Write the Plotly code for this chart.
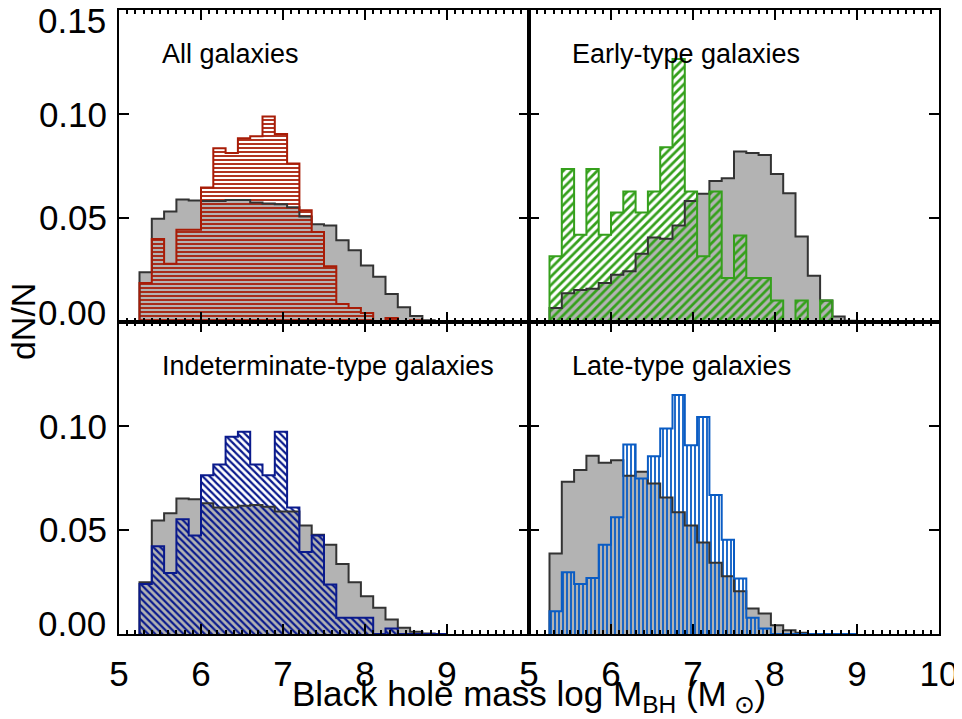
import plotly.graph_objects as go

# ---------------- data ----------------
bin_left = [5.25, 5.40, 5.55, 5.70, 5.85, 6.00, 6.15, 6.30, 6.45, 6.60, 6.75, 6.90,
            7.05, 7.20, 7.35, 7.50, 7.65, 7.80, 7.95, 8.10, 8.25, 8.40, 8.55, 8.70, 8.85]
bin_width = 0.15

gray_all = [0.0240, 0.0497, 0.0532, 0.0590, 0.0585, 0.0583, 0.0583, 0.0587, 0.0587, 0.0575,
            0.0571, 0.0567, 0.0553, 0.0508, 0.0471, 0.0465, 0.0394, 0.0346, 0.0272, 0.0218,
            0.0135, 0.0071, 0.0029, 0.0008, 0.0]
red_all = [0.0188, 0.0399, 0.0280, 0.0444, 0.0444, 0.0647, 0.0837, 0.0813, 0.0885, 0.0894,
           0.0989, 0.0905, 0.0763, 0.0538, 0.0433, 0.0268, 0.0087, 0.0067, 0.0043, 0.0,
           0.0019, 0.0, 0.0008, 0.0, 0.0]

gray_early = [0.0067, 0.0138, 0.0154, 0.0160, 0.0188, 0.0228, 0.0244, 0.0329, 0.0407, 0.0401,
              0.0465, 0.0583, 0.0617, 0.0679, 0.0692, 0.0821, 0.0813, 0.0804, 0.0712, 0.0620,
              0.0412, 0.0223, 0.0104, 0.0027, 0.0006]
green_early = [0.0316, 0.0736, 0.0420, 0.0736, 0.0420, 0.0527, 0.0628, 0.0527, 0.0628, 0.0841,
               0.1266, 0.0628, 0.0316, 0.0628, 0.0212, 0.0417, 0.0212, 0.0212, 0.0104, 0.0,
               0.0104, 0.0, 0.0104, 0.0, 0.0]

gray_indet = [0.0249, 0.0546, 0.0581, 0.0652, 0.0649, 0.0630, 0.0609, 0.0609, 0.0618, 0.0621,
              0.0613, 0.0590, 0.0590, 0.0522, 0.0478, 0.0430, 0.0337, 0.0249, 0.0182, 0.0126,
              0.0070, 0.0030, 0.0011, 0.0003, 0.0]
blue_indet = [0.0241, 0.0422, 0.0294, 0.0553, 0.0474, 0.0764, 0.0816, 0.0949, 0.0974, 0.0816,
              0.0764, 0.0974, 0.0609, 0.0395, 0.0474, 0.0238, 0.0078, 0.0078, 0.0078, 0.0,
              0.0026, 0.0, 0.0, 0.0, 0.0]

gray_late = [0.0388, 0.0733, 0.0789, 0.0858, 0.0824, 0.0837, 0.0762, 0.0781, 0.0725, 0.0657,
             0.0586, 0.0522, 0.0441, 0.0343, 0.0278, 0.0206, 0.0123, 0.0099, 0.0042, 0.0018,
             0.0006, 0.0, 0.0, 0.0, 0.0]
blue_late = [0.0110, 0.0297, 0.0241, 0.0270, 0.0430, 0.0562, 0.0912, 0.0749, 0.0856, 0.0989,
             0.1150, 0.0909, 0.1045, 0.0669, 0.0454, 0.0267, 0.0078, 0.0027, 0.0, 0.0,
             0.0, 0.0, 0.0, 0.0, 0.0]

panel_titles = ["All galaxies", "Early-type galaxies",
                "Indeterminate-type galaxies", "Late-type galaxies"]
y_ticks = [0.0, 0.05, 0.10, 0.15]
y_tick_text = ["0.00", "0.05", "0.10", "0.15"]
x_ticks_left = [5, 6, 7, 8, 9]
x_ticks_right = [5, 6, 7, 8, 9, 10]

# ---------------- style ----------------
FONT = "Liberation Sans, Arial, Helvetica, sans-serif"
GRAY_FILL = "#b3b3b3"
GRAY_LINE = "#333333"
panels = [
    # gray, colored, color, hatch shape, pattern size, axis suffix
    (gray_all, red_all, "#a81c07", "-", 4, ""),
    (gray_early, green_early, "#35a01c", "/", 6, "2"),
    (gray_indet, blue_indet, "#0a1a8c", "\\", 5, "3"),
    (gray_late, blue_late, "#0a5cc4", "|", 4, "4"),
]

centers = [b + bin_width / 2 for b in bin_left]
edges = bin_left + [bin_left[-1] + bin_width]


def step_xy(vals):
    xs = [edges[0]] + edges
    ys = [0.0] + list(vals) + [0.0]
    return xs, ys


fig = go.Figure()
for gray, col_vals, color, shape, psize, sfx in panels:
    xa, ya = "x" + sfx, "y" + sfx
    fig.add_trace(go.Bar(x=centers, y=gray, width=bin_width, xaxis=xa, yaxis=ya,
                         marker=dict(color=GRAY_FILL, line=dict(width=0)),
                         showlegend=False, hoverinfo="skip"))
    gx, gy = step_xy(gray)
    fig.add_trace(go.Scatter(x=gx, y=gy, mode="lines", line_shape="hv", xaxis=xa, yaxis=ya,
                             line=dict(color=GRAY_LINE, width=2), showlegend=False,
                             hoverinfo="skip"))
    fig.add_trace(go.Bar(x=centers, y=col_vals, width=bin_width, xaxis=xa, yaxis=ya,
                         marker=dict(color=color, line=dict(width=0),
                                     pattern=dict(shape=shape, fgcolor=color,
                                                  bgcolor="rgba(0,0,0,0)",
                                                  size=psize, solidity=0.45,
                                                  fillmode="replace")),
                         showlegend=False, hoverinfo="skip"))
    cx, cy = step_xy(col_vals)
    fig.add_trace(go.Scatter(x=cx, y=cy, mode="lines", line_shape="hv", xaxis=xa, yaxis=ya,
                             line=dict(color=color, width=2), showlegend=False,
                             hoverinfo="skip"))

TICK_SIZE = 35
axis_common = dict(showline=True, linecolor="black", linewidth=2, mirror="ticks",
                   ticks="inside", ticklen=10, tickwidth=2, tickcolor="black",
                   showgrid=False, zeroline=False, automargin=False,
                   tickfont=dict(family=FONT, size=TICK_SIZE, color="black"))
x_minor = dict(ticks="inside", ticklen=4, tickwidth=1.5, tickcolor="black",
               tickmode="linear", tick0=5, dtick=0.1, showgrid=False)

# page body adds an 8px offset; the figure is sized so the plot box lands
# at the same place as in the reference window
layout = dict(
    width=954, height=711,
    margin=dict(l=111, r=23, t=2, b=85, autoexpand=False),
    paper_bgcolor="white", plot_bgcolor="white",
    barmode="overlay", bargap=0,
    font=dict(family=FONT, color="black"),
)

x_domains = {"": [0, 0.5], "2": [0.5, 1], "3": [0, 0.5], "4": [0.5, 1]}
y_domains = {"": [0.5, 1], "2": [0.5, 1], "3": [0, 0.5], "4": [0, 0.5]}
for sfx in ["", "2", "3", "4"]:
    bottom = sfx in ("3", "4")
    left = sfx in ("", "3")
    xt = x_ticks_right if sfx in ("2", "4") else x_ticks_left
    layout["xaxis" + sfx] = dict(axis_common, domain=x_domains[sfx], range=[5, 10],
                                 anchor="y" + sfx, tickmode="array", tickvals=xt,
                                 ticktext=[str(v) for v in xt],
                                 showticklabels=bottom, ticklabelstandoff=8,
                                 minor=x_minor)
    # the end labels (0.00 / 0.15) are nudged inward as annotations below
    ytt = ["", y_tick_text[1], y_tick_text[2], ""]
    layout["yaxis" + sfx] = dict(axis_common, domain=y_domains[sfx], range=[0, 0.1502],
                                 anchor="x" + sfx, tickmode="array", tickvals=y_ticks,
                                 ticktext=ytt, showticklabels=left, ticklabelstandoff=3)
fig.update_layout(**layout)

annotations = []
for title, (_, _, _, _, _, sfx) in zip(panel_titles, panels):
    annotations.append(dict(text=title, xref="x" + sfx, yref="y" + sfx,
                            x=5.5, y=0.129, xanchor="left", yanchor="middle",
                            showarrow=False, font=dict(family=FONT, size=27, color="black")))

# end tick labels of the y axes, shifted inward like the original
end_labels = [("", y_ticks[0] + 0.0045, y_tick_text[0]),
              ("", y_ticks[3] - 0.0048, y_tick_text[3]),
              ("3", y_ticks[0] + 0.0050, y_tick_text[0])]
for sfx, yv, txt in end_labels:
    annotations.append(dict(text=txt, xref="x" + sfx + " domain", yref="y" + sfx,
                            x=-0.027, y=yv, xanchor="right", yanchor="middle",
                            showarrow=False,
                            font=dict(family=FONT, size=TICK_SIZE, color="black")))

annotations.append(dict(text="dN/N", xref="paper", yref="paper", x=-0.117, y=0.5,
                        textangle=-90, xanchor="center", yanchor="middle", showarrow=False,
                        font=dict(family=FONT, size=34, color="black")))
annotations.append(dict(text="Black hole mass log M<sub>BH</sub> (M<sub> ⊙</sub>)",
                        xref="paper", yref="paper", x=0.5, y=-0.099,
                        xanchor="center", yanchor="middle", showarrow=False,
                        font=dict(family=FONT, size=35, color="black")))
fig.update_layout(annotations=annotations)

fig.write_html("out.html")
